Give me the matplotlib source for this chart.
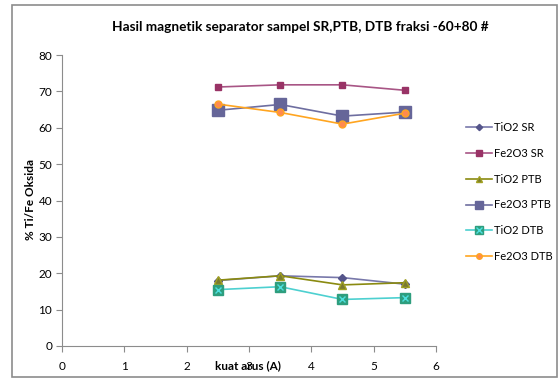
import matplotlib
matplotlib.use("Agg")
import matplotlib.pyplot as plt
from matplotlib.patches import Rectangle
from matplotlib.legend_handler import HandlerTuple

plt.rcParams['font.family'] = ['Lato', 'DejaVu Sans']

x = [2.5, 3.5, 4.5, 5.5]
tio2_sr = [18.0, 19.3, 18.8, 17.0]
fe2o3_sr = [71.2, 71.8, 71.8, 70.3]
tio2_ptb = [18.1, 19.3, 16.8, 17.4]
fe2o3_ptb = [64.8, 66.4, 63.2, 64.3]
tio2_dtb = [15.5, 16.3, 12.8, 13.3]
fe2o3_dtb = [66.5, 64.2, 61.0, 64.0]

fig = plt.figure(figsize=(5.6, 3.78), dpi=100)
fig.patches.append(Rectangle((12/560, 1/378), 545/560, 372/378, transform=fig.transFigure,
                             fill=False, edgecolor='#8c8c8c', linewidth=1.2))
ax = fig.add_axes([62/560, 32/378, 374/560, 291/378])

h1, = ax.plot(x, tio2_sr, color='#7878aa', lw=1.2, marker='D', ms=4, mfc='#55558a', mec='#55558a', label='TiO2 SR')
h2, = ax.plot(x, fe2o3_sr, color='#a85585', lw=1.2, marker='s', ms=5, mfc='#993366', mec='#993366', label='Fe2O3 SR')
h3, = ax.plot(x, tio2_ptb, color='#8a8a10', lw=1.2, marker='^', ms=6, mfc='#7a7a30', mec='#a0a020', label='TiO2 PTB')
h4, = ax.plot(x, fe2o3_ptb, color='#6e6ea0', lw=1.2, marker='s', ms=8, mfc='#666699', mec='#666699', label='Fe2O3 PTB')
h5a, = ax.plot(x, tio2_dtb, color='#4dd0d0', lw=1.2, marker='s', ms=7, mfc='#2e9e7e', mec='#2e9e7e', label='TiO2 DTB')
h5b, = ax.plot(x, tio2_dtb, color='none', lw=0, marker='x', ms=5, mec='#4de0e0', mew=1.0)
h6, = ax.plot(x, fe2o3_dtb, color='#ffa520', lw=1.2, marker='o', ms=5, mfc='#ff8a50', mec='#ffa520', label='Fe2O3 DTB')

ax.set_xlim(0, 6)
ax.set_ylim(0, 80)
ax.set_xticks(range(0, 7))
ax.set_yticks(range(0, 81, 10))
for s in ['top', 'right']:
    ax.spines[s].set_visible(False)
for s in ['left', 'bottom']:
    ax.spines[s].set_color('#8c8c8c')
ax.tick_params(direction='out', length=4, color='#8c8c8c', labelsize=8.5, pad=3)
ax.tick_params(axis='x', pad=7)

fig.text(300/560, 1 - 27/378, 'Hasil magnetik separator sampel SR,PTB, DTB fraksi -60+80 #',
         ha='center', va='center', fontsize=9.8, fontweight='bold')
fig.text(30/560, 1 - 200/378, '% Ti/Fe Oksida', rotation=90, ha='center', va='center',
         fontsize=8.5, fontweight='bold')
fig.text(248/560, 1 - 366/378, 'kuat arus (A)', ha='center', va='center',
         fontsize=8.5, fontweight='bold')

leg = fig.legend([h1, h2, h3, h4, (h5a, h5b), h6],
                 ['TiO2 SR', 'Fe2O3 SR', 'TiO2 PTB', 'Fe2O3 PTB', 'TiO2 DTB', 'Fe2O3 DTB'],
                 handler_map={tuple: HandlerTuple(ndivide=1)},
                 loc='center left', bbox_to_anchor=(456/560, 1 - 192/378),
                 frameon=False, fontsize=8, handlelength=2.3, labelspacing=1.33,
                 handletextpad=0.2, markerscale=0.8)

fig.savefig('out.png', dpi=100)
